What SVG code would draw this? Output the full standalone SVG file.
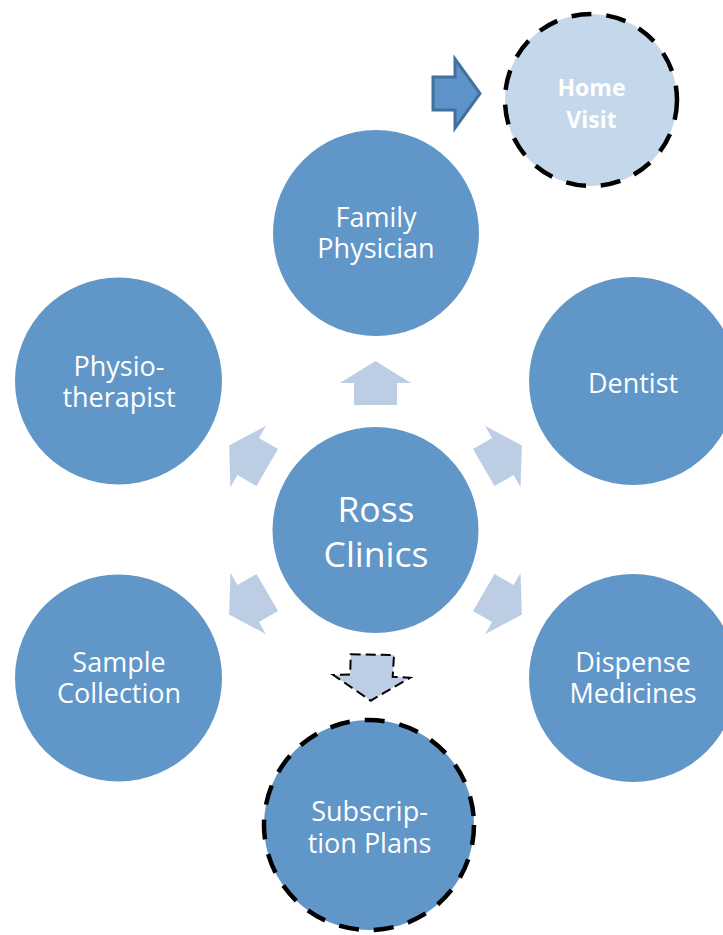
<svg xmlns="http://www.w3.org/2000/svg" width="723" height="935" viewBox="0 0 723 935">
<defs>
<style>
.node{fill:#6096C8;}
.lbl{font-family:"Open Sans","Liberation Sans",sans-serif;font-size:27px;fill:#FFFFFF;text-anchor:middle;}
.big{font-size:35.5px;}
.hv{font-family:"Open Sans","Liberation Sans",sans-serif;font-size:23px;font-weight:bold;fill:#FFFFFF;text-anchor:middle;}
.arr{fill:#BDCDE3;}
.dash{stroke:#000000;stroke-width:4.5;stroke-dasharray:20 15;}
</style>
<polygon id="arrowShape" points="125,-21.5 147,-21.5 147,-35.5 169,0 147,35.5 147,21.5 125,21.5"/>
</defs>
<rect width="723" height="935" fill="#FFFFFF"/>

<g id="connectors">
  <use href="#arrowShape" class="arr" transform="translate(375.5,530) rotate(-90)"/>
  <use href="#arrowShape" class="arr" transform="translate(375.5,530) rotate(-30)"/>
  <use href="#arrowShape" class="arr" transform="translate(375.5,530) rotate(30)"/>
  <use href="#arrowShape" class="arr" transform="translate(375.5,530) rotate(150)"/>
  <use href="#arrowShape" class="arr" transform="translate(375.5,530) rotate(210)"/>
  <polygon id="arrow-subscription" points="350.7,654.3 394,655 392.7,676.7 410,677.7 370.7,700.7 333.3,675 350.2,674.6" fill="#BDCDE3" stroke="#000000" stroke-width="2" stroke-dasharray="10 5"/>
  <polygon id="arrow-homevisit" points="433,77 455,77 455,59 480,93.5 455,128 455,110 433,110" fill="#5E93C9" stroke="#41719C" stroke-width="3"/>
</g>

<g id="node-center">
  <circle class="node" cx="375.5" cy="530" r="103"/>
  <text class="lbl big" x="376" y="522">Ross</text>
  <text class="lbl big" x="376" y="566.7">Clinics</text>
</g>

<g id="node-family-physician">
  <circle class="node" cx="376" cy="233" r="103"/>
  <text class="lbl" x="376" y="226.7">Family</text>
  <text class="lbl" x="376" y="258">Physician</text>
</g>

<g id="node-dentist">
  <circle class="node" cx="633" cy="381" r="104"/>
  <text class="lbl" x="633" y="392.7">Dentist</text>
</g>

<g id="node-dispense-medicines">
  <circle class="node" cx="633" cy="678" r="104"/>
  <text class="lbl" x="633" y="671.7">Dispense</text>
  <text class="lbl" x="633" y="703">Medicines</text>
</g>

<g id="node-subscription-plans">
  <circle class="node dash" cx="369" cy="825" r="105"/>
  <text class="lbl" x="369.5" y="821">Subscrip-</text>
  <text class="lbl" x="369.5" y="852.7">tion Plans</text>
</g>

<g id="node-sample-collection">
  <circle class="node" cx="118.5" cy="678" r="103.5"/>
  <text class="lbl" x="119" y="671.7">Sample</text>
  <text class="lbl" x="119" y="703.3">Collection</text>
</g>

<g id="node-physiotherapist">
  <circle class="node" cx="118.5" cy="381" r="103.5"/>
  <text class="lbl" x="119" y="376">Physio-</text>
  <text class="lbl" x="119" y="407">therapist</text>
</g>

<g id="node-home-visit">
  <circle cx="591" cy="100" r="86" fill="#C5D8EB" class="dash"/>
  <text class="hv" x="591.5" y="96">Home</text>
  <text class="hv" x="591.5" y="128.3">Visit</text>
</g>
</svg>
